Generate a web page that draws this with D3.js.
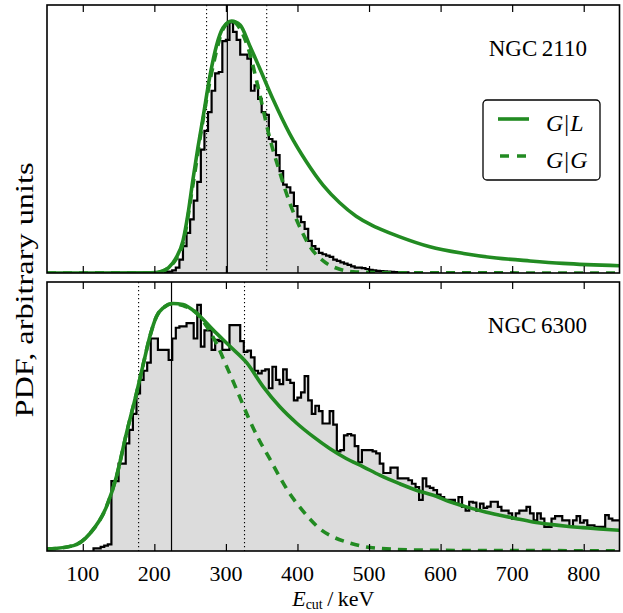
<!DOCTYPE html>
<html><head><meta charset="utf-8">
<script src="https://cdn.jsdelivr.net/npm/d3@7"></script>
<style>
body{margin:0;background:#fff}
svg text{font-family:"Liberation Serif","DejaVu Serif",serif;fill:#000}
</style>
</head><body>
<svg id="chart" width="623" height="613" font-family="Liberation Serif, DejaVu Serif, serif"></svg>
<script>
// ---------- data ----------
const xTicks = [100, 200, 300, 400, 500, 600, 700, 800];
const xDomain = [50, 850];
const panelNames = ["NGC\u20092110", "NGC\u20096300"];
const legendLabels = [["G", "L"], ["G", "G"]];
const binWidth = 5;

// NGC 2110 histogram (normalised heights), bins start at 215 keV
const topHistStart = 215;
const topHist = [
  0.003,0.005,0.01,0.02,0.05,0.10,0.15,0.20,0.27,0.34,
  0.46,0.53,0.60,0.68,0.745,0.75,0.865,0.87,0.935,0.90,
  0.87,0.815,0.815,0.80,0.68,0.70,0.65,0.60,0.59,0.50,
  0.49,0.44,0.38,0.33,0.32,0.30,0.25,0.21,0.19,0.165,
  0.12,0.10,0.09,0.075,0.07,0.065,0.06,0.05,0.045,0.04,
  0.035,0.03,0.025,0.02,0.02,0.018,0.015,0.012,0.010,0.008,
  0.007,0.006,0.005,0.004,0.003,0.003,0.002,0.002
];
// NGC 6300 histogram, bins start at 115 keV
const bottomHistStart = 115;
const bottomHist = [
  0.01,0.01,0.015,0.02,0.025,0.26,0.26,0.325,0.325,0.40,
  0.45,0.51,0.586,0.636,0.67,0.70,0.79,0.79,0.748,0.748,
  0.748,0.71,0.79,0.83,0.835,0.835,0.847,0.847,0.79,0.915,
  0.76,0.82,0.82,0.748,0.785,0.78,0.748,0.748,0.84,0.84,
  0.84,0.78,0.74,0.745,0.72,0.67,0.66,0.67,0.675,0.605,
  0.685,0.636,0.62,0.675,0.636,0.625,0.56,0.57,0.59,0.65,
  0.56,0.51,0.54,0.52,0.474,0.474,0.52,0.47,0.37,0.375,
  0.43,0.435,0.43,0.39,0.33,0.375,0.375,0.375,0.37,0.363,
  0.325,0.29,0.29,0.31,0.31,0.27,0.27,0.27,0.263,0.25,
  0.238,0.19,0.27,0.24,0.235,0.226,0.21,0.20,0.19,0.19,
  0.19,0.176,0.20,0.164,0.15,0.183,0.18,0.15,0.176,0.16,
  0.165,0.183,0.183,0.164,0.15,0.15,0.14,0.12,0.14,0.15,
  0.15,0.164,0.14,0.114,0.14,0.12,0.09,0.09,0.12,0.13,
  0.13,0.114,0.114,0.09,0.114,0.13,0.105,0.114,0.095,0.095,
  0.09,0.09,0.09,0.133,0.12,0.114,0.114,0.114
];

// model curves [E_cut, pdf]
const topGL = [[50,0],[195,0.001],[210,0.006],[220,0.02],[230,0.055],[240,0.12],[247,0.22],[254,0.35],[261,0.47],[268,0.58],[278,0.74],[287,0.85],[296,0.915],[308,0.94],[320,0.925],[333,0.85],[347,0.765],[366,0.647],[389,0.52],[412,0.417],[436,0.327],[459,0.262],[482,0.212],[505,0.177],[515,0.165],[543,0.135],[585,0.098],[632,0.073],[678,0.056],[725,0.045],[771,0.036],[850,0.027]];
const topGG = [[50,0],[195,0.001],[210,0.006],[220,0.02],[230,0.05],[240,0.11],[254,0.33],[268,0.57],[278,0.72],[287,0.83],[296,0.91],[308,0.94],[320,0.91],[331,0.84],[347,0.67],[361,0.506],[375,0.378],[389,0.263],[403,0.173],[417,0.1],[436,0.045],[459,0.014],[482,0.004],[520,0.001],[850,0]];
const bottomGL = [[50,0.007],[87,0.02],[110,0.065],[133,0.164],[147,0.276],[161,0.437],[175,0.586],[185,0.70],[194,0.80],[203,0.872],[213,0.905],[226,0.92],[240,0.916],[259,0.884],[282,0.822],[306,0.76],[329,0.70],[352,0.611],[375,0.537],[399,0.475],[422,0.425],[445,0.381],[468,0.344],[492,0.313],[515,0.282],[543,0.25],[566,0.226],[590,0.207],[613,0.183],[636,0.164],[660,0.147],[683,0.133],[706,0.12],[729,0.108],[753,0.099],[776,0.092],[799,0.087],[822,0.082],[850,0.077]];
const bottomGG = [[50,0.007],[87,0.02],[110,0.065],[133,0.164],[147,0.276],[161,0.437],[175,0.586],[185,0.70],[194,0.80],[203,0.872],[213,0.905],[226,0.92],[240,0.912],[259,0.885],[273,0.835],[287,0.77],[301,0.686],[315,0.6],[333,0.487],[347,0.41],[361,0.344],[375,0.276],[389,0.214],[403,0.164],[417,0.12],[431,0.083],[450,0.052],[468,0.034],[496,0.015],[524,0.008],[560,0.004],[620,0.002],[850,0.001]];

// credible-interval markers: [lower, median, upper]
const topMarkers = [273, 302, 357];
const bottomMarkers = [178, 224, 326];

// ---------- layout ----------
const plotLeft = 47, plotRight = 619.5;
const panelBoxes = [[5, 273], [282, 551]];
const green = "#228b22";
const serif = "'Liberation Serif','DejaVu Serif',serif";

const svg = d3.select("#chart");
const x = d3.scaleLinear().domain(xDomain).range([plotLeft, plotRight]);

const panels = [
  {name: panelNames[0], histStart: topHistStart, hist: topHist, gl: topGL, gg: topGG, markers: topMarkers, box: panelBoxes[0], legend: true},
  {name: panelNames[1], histStart: bottomHistStart, hist: bottomHist, gl: bottomGL, gg: bottomGG, markers: bottomMarkers, box: panelBoxes[1], legend: false}
];

panels.forEach((p, pi) => {
  const [top, bottom] = p.box;
  const y = d3.scaleLinear().domain([0, 1]).range([bottom, top]);
  const g = svg.append("g");
  const clipId = "clip" + pi;
  svg.append("clipPath").attr("id", clipId).append("rect")
    .attr("x", plotLeft).attr("y", top).attr("width", plotRight - plotLeft).attr("height", bottom - top);
  const inner = g.append("g").attr("clip-path", `url(#${clipId})`);

  // histogram as step path
  const pts = [[p.histStart, 0]];
  p.hist.forEach((v, i) => {
    const e0 = p.histStart + i * binWidth;
    pts.push([e0, v], [e0 + binWidth, v]);
  });
  pts.push([p.histStart + p.hist.length * binWidth, 0]);
  const stepLine = d3.line().x(d => x(d[0])).y(d => y(d[1]));
  inner.append("path").attr("d", stepLine(pts) + "Z")
    .attr("fill", "#dcdcdc").attr("stroke", "none");
  inner.append("path").attr("d", stepLine(pts))
    .attr("fill", "none").attr("stroke", "#000").attr("stroke-width", 2.2)
    .attr("stroke-linejoin", "miter");

  // vertical markers
  p.markers.forEach((m, i) => {
    inner.append("line")
      .attr("x1", x(m)).attr("x2", x(m)).attr("y1", top).attr("y2", bottom)
      .attr("stroke", "#000").attr("stroke-width", i === 1 ? 1.2 : 1.1)
      .attr("stroke-dasharray", i === 1 ? null : "1.3,2.7");
  });

  // model curves
  const curve = d3.line().x(d => x(d[0])).y(d => y(d[1])).curve(d3.curveMonotoneX);
  inner.append("path").attr("d", curve(p.gg)).attr("fill", "none")
    .attr("stroke", green).attr("stroke-width", 3.6).attr("stroke-dasharray", "9,7");
  inner.append("path").attr("d", curve(p.gl)).attr("fill", "none")
    .attr("stroke", green).attr("stroke-width", 3.6);

  // ticks (inward) on top and bottom edges
  const axB = d3.axisBottom(x).tickValues(xTicks).tickSize(-7).tickFormat("");
  const axT = d3.axisTop(x).tickValues(xTicks).tickSize(-7).tickFormat("");
  const gb = g.append("g").attr("transform", `translate(0,${bottom})`).call(axB);
  const gt = g.append("g").attr("transform", `translate(0,${top})`).call(axT);
  [gb, gt].forEach(a => {
    a.select(".domain").remove();
    a.selectAll("line").attr("stroke", "#000").attr("stroke-width", 1.2);
  });

  // frame
  g.append("rect").attr("x", plotLeft).attr("y", top)
    .attr("width", plotRight - plotLeft).attr("height", bottom - top)
    .attr("fill", "none").attr("stroke", "#000").attr("stroke-width", 1.6);

  // panel name
  g.append("text").attr("x", 587).attr("y", top + 51)
    .attr("text-anchor", "end").style("font-family", serif).style("font-size", "23px").text(p.name);

  if (p.legend) {
    const lg = g.append("g");
    lg.append("rect").attr("x", 483).attr("y", 100).attr("width", 117).attr("height", 80)
      .attr("rx", 4).attr("fill", "#fff").attr("stroke", "#000").attr("stroke-width", 1.3);
    const rows = [{y: 119, dash: null}, {y: 156, dash: "9,8"}];
    rows.forEach((r, i) => {
      lg.append("line").attr("x1", 498).attr("x2", 529).attr("y1", r.y).attr("y2", r.y)
        .attr("stroke", green).attr("stroke-width", 3.6)
        .attr("stroke-dasharray", r.dash).attr("stroke-dashoffset", r.dash ? -2 : null);
      const t = lg.append("text").attr("x", 546).attr("y", r.y + 12)
        .style("font-family", serif).style("font-size", "24px");
      t.append("tspan").style("font-style", "italic").text(legendLabels[i][0]);
      t.append("tspan").attr("dx", 1).text("|");
      t.append("tspan").attr("dx", 1).style("font-style", "italic").text(legendLabels[i][1]);
    });
  }

  if (pi === 1) {
    g.append("g").selectAll("text").data(xTicks).join("text")
      .attr("x", d => x(d)).attr("y", 581).attr("text-anchor", "middle")
      .style("font-family", serif).style("font-size", "22px").text(d => d);
  }
});

// x axis title
const xt = svg.append("text").attr("x", (plotLeft + plotRight) / 2).attr("y", 606)
  .attr("text-anchor", "middle").style("font-family", serif).style("font-size", "22px");
xt.append("tspan").style("font-style", "italic").text("E");
xt.append("tspan").attr("dy", 3).style("font-size", "14px").text("cut");
xt.append("tspan").attr("dy", -3).text("\u2009/\u2009keV");

// y axis title
svg.append("text").attr("transform", "translate(33,290) rotate(-90)")
  .attr("text-anchor", "middle").style("font-family", serif).style("font-size", "26px")
  .attr("textLength", 255).attr("lengthAdjust", "spacingAndGlyphs")
  .text("PDF, arbitrary units");
</script>
</body></html>
